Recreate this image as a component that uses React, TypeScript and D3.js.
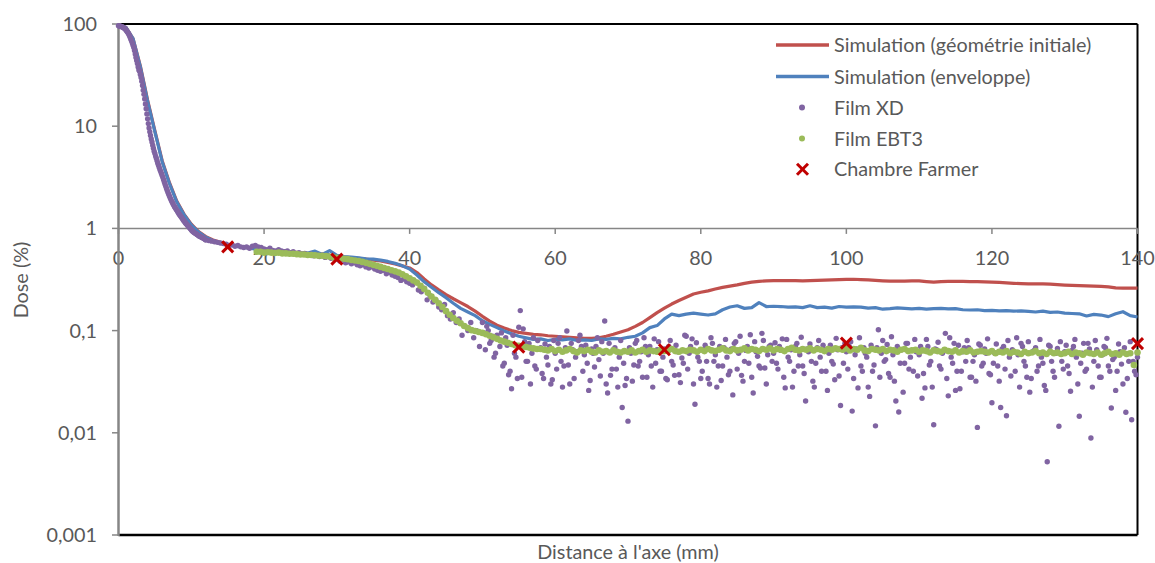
import React from 'react';
import * as d3 from 'd3';

// ---------- DATA ----------
const xTicks = [0, 20, 40, 60, 80, 100, 120, 140];
const yTicks = [100, 10, 1, 0.1, 0.01, 0.001];

const seriesNames = [
  'Simulation (géométrie initiale)',
  'Simulation (enveloppe)',
  'Film XD',
  'Film EBT3',
  'Chambre Farmer',
];

// simulations sampled every 1 mm, 0..140
const simX = d3.range(0, 141, 1);
const simInitiale = [
  97, 93, 72, 39, 18, 9, 4.6, 2.8, 1.85, 1.38,
  1.1, 0.93, 0.83, 0.77, 0.73, 0.7, 0.68, 0.66, 0.645, 0.63,
  0.62, 0.61, 0.6, 0.595, 0.585, 0.575, 0.565, 0.555, 0.545, 0.54,
  0.53, 0.525, 0.515, 0.51, 0.5, 0.49, 0.48, 0.465, 0.45, 0.43,
  0.41, 0.37, 0.32, 0.28, 0.25, 0.225, 0.205, 0.188, 0.172, 0.155,
  0.138, 0.124, 0.113, 0.106, 0.1, 0.096, 0.094, 0.092, 0.091, 0.089,
  0.088, 0.087, 0.086, 0.085, 0.084, 0.084, 0.085, 0.088, 0.092, 0.097,
  0.102, 0.11, 0.12, 0.134, 0.15, 0.166, 0.182, 0.197, 0.212, 0.228,
  0.237, 0.245, 0.255, 0.265, 0.272, 0.28, 0.29, 0.298, 0.303, 0.307,
  0.308, 0.309, 0.309, 0.308, 0.307, 0.308, 0.31, 0.312, 0.313, 0.315,
  0.317, 0.318, 0.316, 0.313, 0.31, 0.307, 0.305, 0.305, 0.305, 0.306,
  0.307, 0.302, 0.298, 0.302, 0.303, 0.303, 0.303, 0.302, 0.301, 0.3,
  0.298, 0.296, 0.293, 0.29, 0.288, 0.287, 0.286, 0.286, 0.285, 0.282,
  0.279, 0.277, 0.276, 0.274, 0.272, 0.271, 0.268, 0.262, 0.26, 0.261,
  0.26,
];
const simEnveloppe = [
  97, 93, 72, 38, 17.5, 8.8, 4.5, 2.75, 1.82, 1.36,
  1.08, 0.92, 0.82, 0.76, 0.72, 0.69, 0.67, 0.655, 0.64, 0.625,
  0.615, 0.605, 0.595, 0.59, 0.58, 0.57, 0.575, 0.6, 0.555, 0.605,
  0.545, 0.53, 0.525, 0.515, 0.505, 0.5, 0.49, 0.475, 0.455, 0.43,
  0.4, 0.35, 0.3, 0.265, 0.235, 0.21, 0.185, 0.165, 0.152, 0.14,
  0.125, 0.115, 0.107, 0.099, 0.093, 0.088, 0.085, 0.082, 0.083, 0.08,
  0.082, 0.081, 0.083, 0.08, 0.081, 0.08, 0.083, 0.082, 0.084, 0.083,
  0.086, 0.088, 0.095, 0.107, 0.112, 0.13, 0.145, 0.14, 0.145, 0.148,
  0.145, 0.142, 0.146, 0.16, 0.17, 0.175, 0.165, 0.168, 0.188, 0.172,
  0.173, 0.172, 0.17, 0.171, 0.168, 0.175, 0.168, 0.17, 0.166, 0.172,
  0.17, 0.171, 0.17, 0.166, 0.168, 0.162, 0.164, 0.167, 0.165, 0.163,
  0.165, 0.162, 0.164, 0.165, 0.163, 0.164, 0.16, 0.159, 0.16, 0.157,
  0.158, 0.156, 0.157, 0.155, 0.156, 0.154, 0.152, 0.155, 0.151, 0.152,
  0.148, 0.147, 0.146, 0.139, 0.144, 0.142, 0.137, 0.146, 0.153, 0.14,
  0.136,
];

// Film XD, part A: every 0.1 mm, 0..12
const xdXa = d3.range(0, 121).map((i) => +(i * 0.1).toFixed(1));
const filmXDa = [
  96, 96, 95, 95, 94, 94, 93, 92, 91, 90,
  88, 86, 84, 82, 80, 77, 74, 71, 68, 65,
  62, 59, 55, 51, 47, 44, 41, 38, 35.5, 34.5,
  32, 30, 27.5, 25, 22.5, 20.5, 18.5, 16.5, 14.8, 13.2,
  11.8, 10.6, 9.6, 8.8, 8.1, 7.5, 7.0, 6.5, 6.1, 5.7,
  5.4, 5.1, 4.85, 4.6, 4.35, 4.15, 3.95, 3.75, 3.6, 3.45,
  3.3, 3.15, 3.0, 2.85, 2.7, 2.58, 2.46, 2.35, 2.25, 2.16,
  2.07, 1.99, 1.92, 1.85, 1.79, 1.73, 1.68, 1.63, 1.59, 1.55,
  1.51, 1.47, 1.43, 1.39, 1.36, 1.33, 1.3, 1.27, 1.24, 1.21,
  1.18, 1.16, 1.13, 1.11, 1.09, 1.07, 1.05, 1.03, 1.01, 0.99,
  0.97, 0.95, 0.94, 0.92, 0.91, 0.9, 0.89, 0.88, 0.87, 0.86,
  0.85, 0.84, 0.84, 0.83, 0.82, 0.81, 0.81, 0.8, 0.79, 0.78,
  0.77,
];
// Film XD, part B: every 0.4 mm, 12.4..140
const xdXb = d3.range(0, 320).map((i) => +(12.4 + i * 0.4).toFixed(1));
const filmXDb = [
  0.76, 0.75, 0.74, 0.73, 0.72, 0.71, 0.7, 0.68, 0.69, 0.67, 0.68, 0.66, 0.65, 0.66, 0.64, 0.67, 0.68, 0.66, 0.65,
  0.63, 0.62, 0.64, 0.61, 0.6, 0.62, 0.6, 0.59, 0.6, 0.58, 0.59, 0.57, 0.58, 0.56, 0.57, 0.55, 0.56, 0.54, 0.55, 0.53, 0.55, 0.52, 0.54, 0.51, 0.52,
  0.5, 0.48, 0.49, 0.46, 0.47, 0.45, 0.46, 0.44, 0.43, 0.44, 0.42, 0.41, 0.42, 0.4, 0.39, 0.38, 0.39, 0.36, 0.37, 0.35, 0.34, 0.33, 0.31, 0.32, 0.3,
  0.29, 0.28, 0.3, 0.25, 0.24, 0.26, 0.2, 0.22, 0.19, 0.2, 0.17, 0.16, 0.18, 0.14, 0.13, 0.15, 0.12, 0.13, 0.09, 0.11, 0.1, 0.12, 0.085, 0.1, 0.07,
  0.12, 0.065, 0.1, 0.08, 0.055, 0.09, 0.07, 0.045, 0.085, 0.037, 0.027, 0.06, 0.034, 0.157, 0.104, 0.05, 0.075, 0.06, 0.045, 0.08, 0.068, 0.034, 0.055, 0.07, 0.033,
  0.06, 0.075, 0.05, 0.045, 0.099, 0.03, 0.065, 0.055, 0.08, 0.07, 0.058, 0.048, 0.0325, 0.06, 0.07, 0.052, 0.078, 0.124, 0.0245, 0.0365, 0.065, 0.042, 0.055, 0.0177, 0.029,
  0.013, 0.06, 0.046, 0.08, 0.05, 0.035, 0.07, 0.058, 0.045, 0.083, 0.065, 0.04, 0.055, 0.034, 0.07, 0.05, 0.0365, 0.062, 0.031, 0.048, 0.088, 0.06, 0.083, 0.019, 0.055,
  0.034, 0.065, 0.05, 0.03, 0.075, 0.058, 0.045, 0.0325, 0.068, 0.055, 0.04, 0.0235, 0.078, 0.06, 0.0365, 0.05, 0.07, 0.091, 0.0245, 0.062, 0.045, 0.094, 0.043, 0.058, 0.072,
  0.06, 0.048, 0.07, 0.083, 0.0275, 0.055, 0.065, 0.04, 0.075, 0.058, 0.045, 0.0205, 0.062, 0.05, 0.028, 0.068, 0.055, 0.072, 0.04, 0.06, 0.05, 0.033, 0.065, 0.0185, 0.048,
  0.062, 0.07, 0.0163, 0.058, 0.0275, 0.045, 0.068, 0.055, 0.0227, 0.04, 0.0117, 0.102, 0.06, 0.05, 0.073, 0.035, 0.058, 0.0205, 0.016, 0.065, 0.048, 0.075, 0.055, 0.04, 0.062,
  0.058, 0.0218, 0.0275, 0.07, 0.05, 0.012, 0.065, 0.045, 0.06, 0.094, 0.023, 0.055, 0.075, 0.04, 0.027, 0.062, 0.05, 0.068, 0.035, 0.058, 0.0113, 0.072, 0.048, 0.06, 0.038,
  0.0197, 0.06, 0.045, 0.0177, 0.07, 0.0147, 0.055, 0.065, 0.04, 0.058, 0.075, 0.05, 0.035, 0.025, 0.062, 0.068, 0.045, 0.055, 0.029, 0.0052, 0.07, 0.04, 0.06, 0.0116, 0.05,
  0.062, 0.045, 0.0255, 0.07, 0.055, 0.0145, 0.06, 0.04, 0.075, 0.0089, 0.05, 0.065, 0.035, 0.058, 0.068, 0.045, 0.0175, 0.055, 0.04, 0.062, 0.03, 0.0159, 0.05, 0.0134, 0.04,
  0.055,
];
// Film XD, part C: intermediate samples every 0.4 mm, 50.2..139.8
const xdXc = d3.range(0, 225).map((i) => +(50.2 + i * 0.4).toFixed(1));
const filmXDc = [
  0.095, 0.11, 0.075, 0.088, 0.06, 0.082, 0.095, 0.048, 0.072, 0.04, 0.09, 0.055, 0.108, 0.035, 0.078, 0.05, 0.03, 0.085, 0.042, 0.066, 0.038, 0.074, 0.046, 0.03, 0.08,
  0.042, 0.085, 0.028, 0.068, 0.046, 0.075, 0.034, 0.062, 0.09, 0.04, 0.072, 0.026, 0.066, 0.044, 0.085, 0.036, 0.06, 0.03, 0.075, 0.042, 0.068, 0.028, 0.08, 0.048, 0.034,
  0.068, 0.032, 0.075, 0.045, 0.062, 0.085, 0.035, 0.07, 0.028, 0.048, 0.078, 0.04, 0.066, 0.033, 0.08, 0.046, 0.072, 0.037, 0.054, 0.09, 0.042, 0.07, 0.03, 0.076, 0.05,
  0.04, 0.072, 0.034, 0.085, 0.05, 0.028, 0.07, 0.045, 0.082, 0.037, 0.066, 0.075, 0.042, 0.088, 0.032, 0.064, 0.048, 0.035, 0.078, 0.056, 0.043, 0.08, 0.03, 0.07, 0.05,
  0.076, 0.042, 0.064, 0.035, 0.082, 0.05, 0.028, 0.07, 0.045, 0.086, 0.038, 0.066, 0.074, 0.032, 0.048, 0.08, 0.04, 0.065, 0.026, 0.072, 0.047, 0.084, 0.036, 0.068, 0.075,
  0.042, 0.078, 0.034, 0.066, 0.085, 0.04, 0.06, 0.028, 0.072, 0.046, 0.068, 0.035, 0.08, 0.052, 0.038, 0.087, 0.032, 0.07, 0.048, 0.025, 0.075, 0.042, 0.064, 0.082, 0.036,
  0.07, 0.038, 0.082, 0.046, 0.028, 0.066, 0.077, 0.042, 0.063, 0.034, 0.085, 0.048, 0.026, 0.072, 0.04, 0.068, 0.08, 0.035, 0.05, 0.032, 0.074, 0.045, 0.066, 0.083, 0.037,
  0.048, 0.074, 0.032, 0.066, 0.042, 0.08, 0.036, 0.062, 0.085, 0.028, 0.07, 0.045, 0.078, 0.034, 0.064, 0.04, 0.082, 0.048, 0.026, 0.072, 0.05, 0.035, 0.067, 0.078, 0.042,
  0.072, 0.038, 0.064, 0.082, 0.03, 0.048, 0.075, 0.042, 0.066, 0.028, 0.08, 0.045, 0.035, 0.07, 0.084, 0.04, 0.052, 0.026, 0.074, 0.047, 0.068, 0.034, 0.078, 0.05, 0.037,
];

// Film EBT3: sampled every 0.5 mm, 19..140
const ebtX = d3.range(0, 243).map((i) => 19 + i * 0.5);
const filmEBT3 = [
  0.59, 0.59, 0.58, 0.585, 0.58, 0.575, 0.58, 0.57, 0.57, 0.565, 0.565, 0.56, 0.555, 0.555, 0.55, 0.55, 0.545, 0.54, 0.54, 0.535,
  0.53, 0.52, 0.515, 0.51, 0.505, 0.5, 0.49, 0.485, 0.48, 0.47, 0.46, 0.45, 0.44, 0.43, 0.42, 0.41, 0.4, 0.39, 0.38, 0.37,
  0.355, 0.34, 0.325, 0.31, 0.295, 0.275, 0.255, 0.235, 0.215, 0.2, 0.185, 0.17, 0.155, 0.143, 0.133, 0.125, 0.118, 0.111, 0.106, 0.101,
  0.099, 0.097, 0.095, 0.092, 0.089, 0.086, 0.083, 0.08, 0.078, 0.076, 0.074, 0.072, 0.071, 0.07, 0.069, 0.068, 0.067, 0.066, 0.066, 0.065,
  0.064, 0.066, 0.063, 0.065, 0.062, 0.064, 0.066, 0.063, 0.061, 0.064, 0.063, 0.065, 0.062, 0.061, 0.064, 0.062, 0.063, 0.061, 0.064, 0.062,
  0.061, 0.063, 0.062, 0.064, 0.061, 0.063, 0.065, 0.062, 0.064, 0.063, 0.062, 0.065, 0.063, 0.064, 0.066, 0.063, 0.062, 0.064, 0.063, 0.065,
  0.064, 0.062, 0.065, 0.063, 0.066, 0.064, 0.063, 0.065, 0.067, 0.064, 0.063, 0.066, 0.064, 0.065, 0.067, 0.064, 0.066, 0.065, 0.063, 0.066,
  0.065, 0.067, 0.064, 0.066, 0.065, 0.063, 0.066, 0.068, 0.065, 0.064, 0.066, 0.065, 0.067, 0.064, 0.066, 0.065, 0.063, 0.066, 0.065, 0.067,
  0.066, 0.065, 0.067, 0.064, 0.066, 0.065, 0.068, 0.064, 0.063, 0.066, 0.065, 0.064, 0.066, 0.063, 0.065, 0.064, 0.062, 0.065, 0.066, 0.063,
  0.064, 0.065, 0.062, 0.064, 0.063, 0.061, 0.064, 0.063, 0.062, 0.065, 0.063, 0.062, 0.064, 0.061, 0.063, 0.062, 0.064, 0.061, 0.062, 0.063,
  0.062, 0.061, 0.063, 0.06, 0.062, 0.061, 0.063, 0.06, 0.062, 0.061, 0.059, 0.062, 0.06, 0.061, 0.063, 0.06, 0.061, 0.059, 0.062, 0.06,
  0.061, 0.059, 0.06, 0.062, 0.059, 0.061, 0.06, 0.058, 0.061, 0.06, 0.059, 0.061, 0.058, 0.06, 0.062, 0.059, 0.06, 0.058, 0.061, 0.059,
  0.06, 0.046, 0.061,
];

// Chambre Farmer
const farmerX = [15, 30, 55, 75, 100, 140];
const farmerDose = [0.66, 0.5, 0.069, 0.065, 0.0755, 0.0745];

// ---------- STYLE ----------
const W = 1155;
const H = 563;
const C_RED = '#C0504D';
const C_BLUE = '#4F81BD';
const C_PURPLE = '#8064A2';
const C_GREEN = '#9BBB59';
const C_FARMER = '#C00000';
const C_TEXT = '#595959';
const C_AXIS = '#868686';
const FONT = 'Lato, "Open Sans", sans-serif';
const FS = 19.8;

export default function App() {
  const x = d3.scaleLinear().domain([0, 140]).range([118.5, 1137.5]);
  const y = d3.scaleLog().domain([0.001, 100]).range([535, 24]);
  const line = d3
    .line<[number, number]>()
    .x((d) => x(d[0]))
    .y((d) => y(d[1]));

  const redPts = simX.map((v, i) => [v, simInitiale[i]] as [number, number]);
  const bluePts = simX.map((v, i) => [v, simEnveloppe[i]] as [number, number]);
  const xdPts: [number, number][] = [
    ...xdXa.map((v, i) => [v, filmXDa[i]] as [number, number]),
    ...xdXb.map((v, i) => [v, filmXDb[i]] as [number, number]),
    ...xdXc.map((v, i) => [v, filmXDc[i]] as [number, number]),
  ];
  const fmt = (v: number) => String(v).replace('.', ',');
  const [x0, x1] = x.range();
  const [yB, yT] = y.range();
  const xAxisY = y(1);

  const cross = (cx: number, cy: number, s: number, key: string) => (
    <g key={key} stroke={C_FARMER} strokeWidth={3} strokeLinecap="butt">
      <line x1={cx - s} y1={cy - s} x2={cx + s} y2={cy + s} />
      <line x1={cx - s} y1={cy + s} x2={cx + s} y2={cy - s} />
    </g>
  );

  const legendX = 776;
  const legendY = [45, 76.5, 107.5, 138.5, 169.3];

  return (
    <svg
      width={W}
      height={H}
      style={{ position: 'absolute', left: 0, top: 0, background: '#fff' }}
      fontFamily={FONT}
    >
      <rect x={0} y={0} width={W} height={H} fill="#fff" />
      {/* plot frame */}
      <line x1={x0} y1={yT} x2={x1} y2={yT} stroke="#000" strokeWidth={2} />
      <line x1={x1} y1={yT} x2={x1} y2={yB} stroke="#000" strokeWidth={2} />
      <line x1={x0} y1={yB} x2={x1} y2={yB} stroke="#000" strokeWidth={2.5} />

      {/* x axis crossing at 1 */}
      <line x1={x0} y1={xAxisY} x2={x1} y2={xAxisY} stroke={C_AXIS} strokeWidth={1.5} />
      {xTicks.map((t) => (
        <g key={'xt' + t}>
          <line x1={x(t)} x2={x(t)} y1={xAxisY} y2={xAxisY + 5.5} stroke={C_AXIS} strokeWidth={1.5} />
          <text x={x(t)} y={264.5} textAnchor="middle" fontSize={FS} fill={C_TEXT}>
            {t}
          </text>
        </g>
      ))}

      {/* y axis */}
      {yTicks.map((t) => (
        <g key={'yt' + t}>
          <line x1={x0 - 6.5} x2={x0} y1={y(t)} y2={y(t)} stroke={C_AXIS} strokeWidth={1.5} />
          <text x={97} y={y(t) + 7} textAnchor="end" fontSize={FS} fill={C_TEXT}>
            {fmt(t)}
          </text>
        </g>
      ))}
      <line x1={x0} y1={yT} x2={x0} y2={yB + 1} stroke={C_AXIS} strokeWidth={2.5} />

      {/* axis titles */}
      <text x={628} y={558.5} textAnchor="middle" fontSize={FS} fill={C_TEXT}>
        Distance à l'axe (mm)
      </text>
      <text transform="translate(27.5,280) rotate(-90)" textAnchor="middle" fontSize={FS} fill={C_TEXT}>
        Dose (%)
      </text>

      {/* series */}
      <path d={line(redPts) || ''} fill="none" stroke={C_RED} strokeWidth={3.2} strokeLinejoin="round" />
      <path d={line(bluePts) || ''} fill="none" stroke={C_BLUE} strokeWidth={3.2} strokeLinejoin="round" />
      <g fill={C_PURPLE}>
        {xdPts.map((d, i) => (
          <circle key={'xd' + i} cx={x(d[0])} cy={y(d[1])} r={2.7} />
        ))}
      </g>
      <g fill={C_GREEN}>
        {filmEBT3.map((v, i) => (
          <circle key={'eb' + i} cx={x(ebtX[i])} cy={y(v)} r={3.3} />
        ))}
      </g>
      {farmerDose.map((v, i) => cross(x(farmerX[i]), y(v), 5.5, 'f' + i))}

      {/* legend */}
      <line x1={legendX} x2={legendX + 53} y1={legendY[0]} y2={legendY[0]} stroke={C_RED} strokeWidth={3.5} />
      <line x1={legendX} x2={legendX + 53} y1={legendY[1]} y2={legendY[1]} stroke={C_BLUE} strokeWidth={3.5} />
      <circle cx={legendX + 26} cy={legendY[2]} r={3} fill={C_PURPLE} />
      <circle cx={legendX + 26} cy={legendY[3]} r={3} fill={C_GREEN} />
      {cross(legendX + 26.5, legendY[4], 5.5, 'lf')}
      {seriesNames.map((n, i) => (
        <text key={'lg' + i} x={834} y={legendY[i] + 7} fontSize={FS} fill={C_TEXT}>
          {n}
        </text>
      ))}
    </svg>
  );
}
